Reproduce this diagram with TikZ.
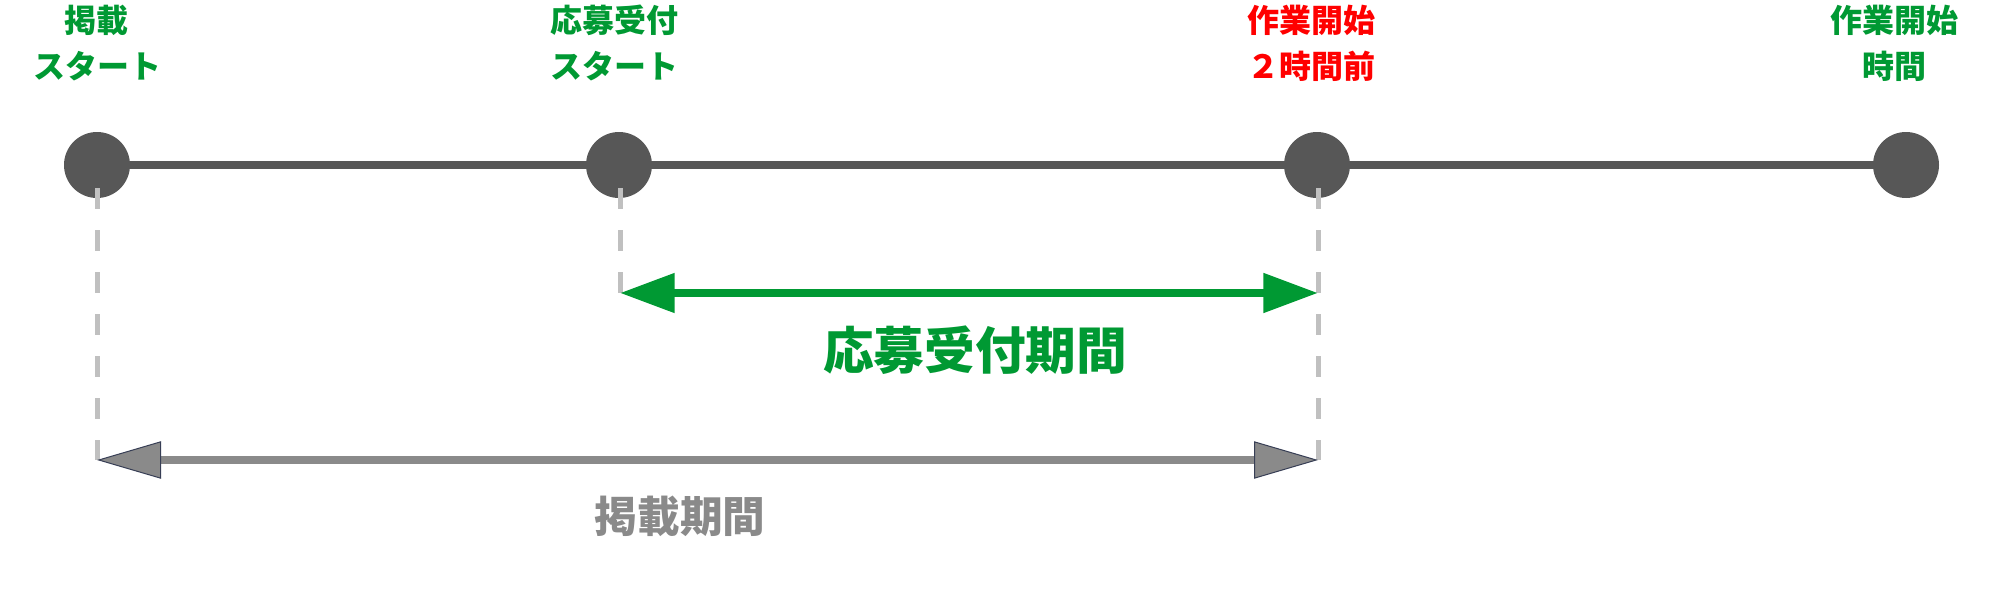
\documentclass[tikz,border=0pt]{standalone}
\usepackage{fontspec}
\usetikzlibrary{arrows.meta}
\newfontfamily\jpfont{Noto Sans CJK JP}

\definecolor{dotgray}{RGB}{87,87,87}
\definecolor{guidegray}{RGB}{192,192,192}
\definecolor{boshugreen}{RGB}{0,153,51}
\definecolor{periodgray}{RGB}{138,138,138}
\definecolor{tipedge}{RGB}{55,62,85}
\definecolor{alertred}{RGB}{255,0,0}

\tikzset{
  dot/.style={circle,fill=dotgray,minimum size=49.5pt,inner sep=0pt},
  toplabel/.style={align=center,inner sep=0pt,font=\jpfont\bfseries\fontsize{24}{34.5}\selectfont},
  guide/.style={guidegray,line width=3.75pt,dash pattern=on 15.75pt off 15.75pt},
  timeline/.style={dotgray,line width=6pt},
  boshuarrow/.style={boshugreen,line width=6pt,
    {Triangle[length=41pt,width=28.5pt]}-{Triangle[length=41pt,width=28.5pt]}},
  keisaiarrow/.style={periodgray,line width=6pt,
    {Triangle[length=48pt,width=28pt,color=tipedge,fill=periodgray,line width=0.75pt]}-{Triangle[length=48pt,width=28pt,color=tipedge,fill=periodgray,line width=0.75pt]}},
}

\begin{document}
\begin{tikzpicture}[x=0.75pt,y=0.75pt,yscale=-1,xscale=1]
	\useasboundingbox (0,0) rectangle (2000,610);

	%Dots on the time line
	\node[dot] (p1) at (97,165) {};
	\node[dot] (p2) at (619,165) {};
	\node[dot] (p3) at (1317,165) {};
	\node[dot] (p4) at (1906,165) {};
	\draw[timeline] (p1) -- (p2) -- (p3) -- (p4);

	%Guide lines
	\coordinate (g1top) at (97,188);
	\coordinate (g1bot) at (97,460);
	\coordinate (g2top) at (620,188);
	\coordinate (g2bot) at (620,293);
	\coordinate (g3top) at (1318,188);
	\coordinate (g3bot) at (1318,460);
	\draw[guide] (g1top) -- (g1bot);
	\draw[guide] (g2top) -- (g2bot);
	\draw[guide] (g3top) -- (g3bot);

	%Period arrows
	\coordinate (a1l) at (620,293);
	\coordinate (a1r) at (1318,293);
	\draw[boshuarrow] (a1l) -- (a1r);
	\draw[keisaiarrow] (g1bot) -- (g3bot);

	% Text Node
	\node[toplabel,boshugreen] (l1) at (97,43) {掲載\\スタート};
	% Text Node
	\node[toplabel,boshugreen] (l2) at (614,43) {応募受付\\スタート};
	% Text Node
	\node[toplabel,alertred] (l3) at (1311,43) {作業開始\\２時間前};
	% Text Node
	\node[toplabel,boshugreen] (l4) at (1894,43) {作業開始\\時間};
	% Text Node
	\node[inner sep=0pt,boshugreen,font=\jpfont\bfseries\fontsize{38}{40}\selectfont] (boshulabel) at (975,350) {応募受付期間};
	% Text Node
	\node[inner sep=0pt,periodgray,font=\jpfont\bfseries\fontsize{32}{34}\selectfont] (keisailabel) at (680,516) {掲載期間};

\end{tikzpicture}
\end{document}
